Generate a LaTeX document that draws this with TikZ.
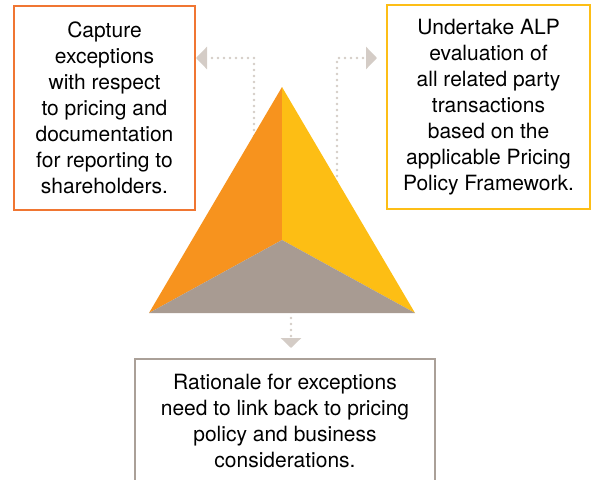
\documentclass[tikz,border=0pt]{standalone}
\usepackage{fontspec}
\setmainfont{TeX Gyre Heros}
\usepackage{tikz}
\usetikzlibrary{positioning, arrows.meta, calc}

\definecolor{capline}{RGB}{240,118,50}
\definecolor{alpline}{RGB}{253,190,22}
\definecolor{ratline}{RGB}{170,160,152}
\definecolor{faceleft}{RGB}{247,147,30}
\definecolor{faceright}{RGB}{253,190,20}
\definecolor{facebottom}{RGB}{168,155,146}
\definecolor{linkgray}{RGB}{212,204,198}

\begin{document}
\begin{tikzpicture}[
    x=1pt, y=-1pt,
    box/.style={rectangle, draw, line width=2pt, fill=white, align=center,
                font=\fontsize{21}{25.9}\selectfont, inner sep=0pt},
    link/.style={draw=linkgray, line width=2.6pt, line cap=round,
                 dash pattern=on 0pt off 6pt,
                 -{Triangle[length=11pt, width=22pt]}}
]

    % Canvas
    \useasboundingbox (0,0) rectangle (594,479);
    \clip (0,0) rectangle (594,479);

    % Pyramid corners
    \coordinate (apex) at (282,87);
    \coordinate (lbase) at (149,313);
    \coordinate (rbase) at (415,313);
    \coordinate (mid) at (282,240);

    % Boxes
    \node[box, draw=capline, minimum width=181pt, minimum height=204pt] (capture) at (104.5,108)
        {Capture\\exceptions\\with respect\\to pricing and\\documentation\\for reporting to\\shareholders.};
    \node[box, draw=alpline, minimum width=203pt, minimum height=204pt] (alp) at (488.5,107)
        {Undertake ALP\\evaluation of\\all related party\\transactions\\based on the\\applicable Pricing\\Policy Framework.};
    \node[box, draw=ratline, minimum width=300pt, minimum height=124pt] (rationale) at (285,421)
        {Rationale for exceptions\\need to link back to pricing\\policy and business\\considerations.};

    % Dotted links
    \coordinate (lfoot) at (254,160);
    \coordinate (lbend) at (254,58);
    \coordinate (rfoot) at (337,200);
    \coordinate (rbend) at (337,58);
    \coordinate (bfoot) at (291,300);
    \draw[link] (lfoot) -- (lbend) -- (lbend -| capture.east);
    \draw[link, shorten >=9pt] (rfoot) -- (rbend) -- (rbend -| alp.west);
    \draw[link, -{Triangle[length=10pt, width=20pt]}, shorten >=10pt] (bfoot) -- (bfoot |- rationale.north);

    % Pyramid faces
    \fill[faceleft] (apex) -- (lbase) -- (mid) -- cycle;
    \fill[faceright] (apex) -- (mid) -- (rbase) -- cycle;
    \fill[facebottom] (lbase) -- (mid) -- (rbase) -- cycle;

\end{tikzpicture}
\end{document}
